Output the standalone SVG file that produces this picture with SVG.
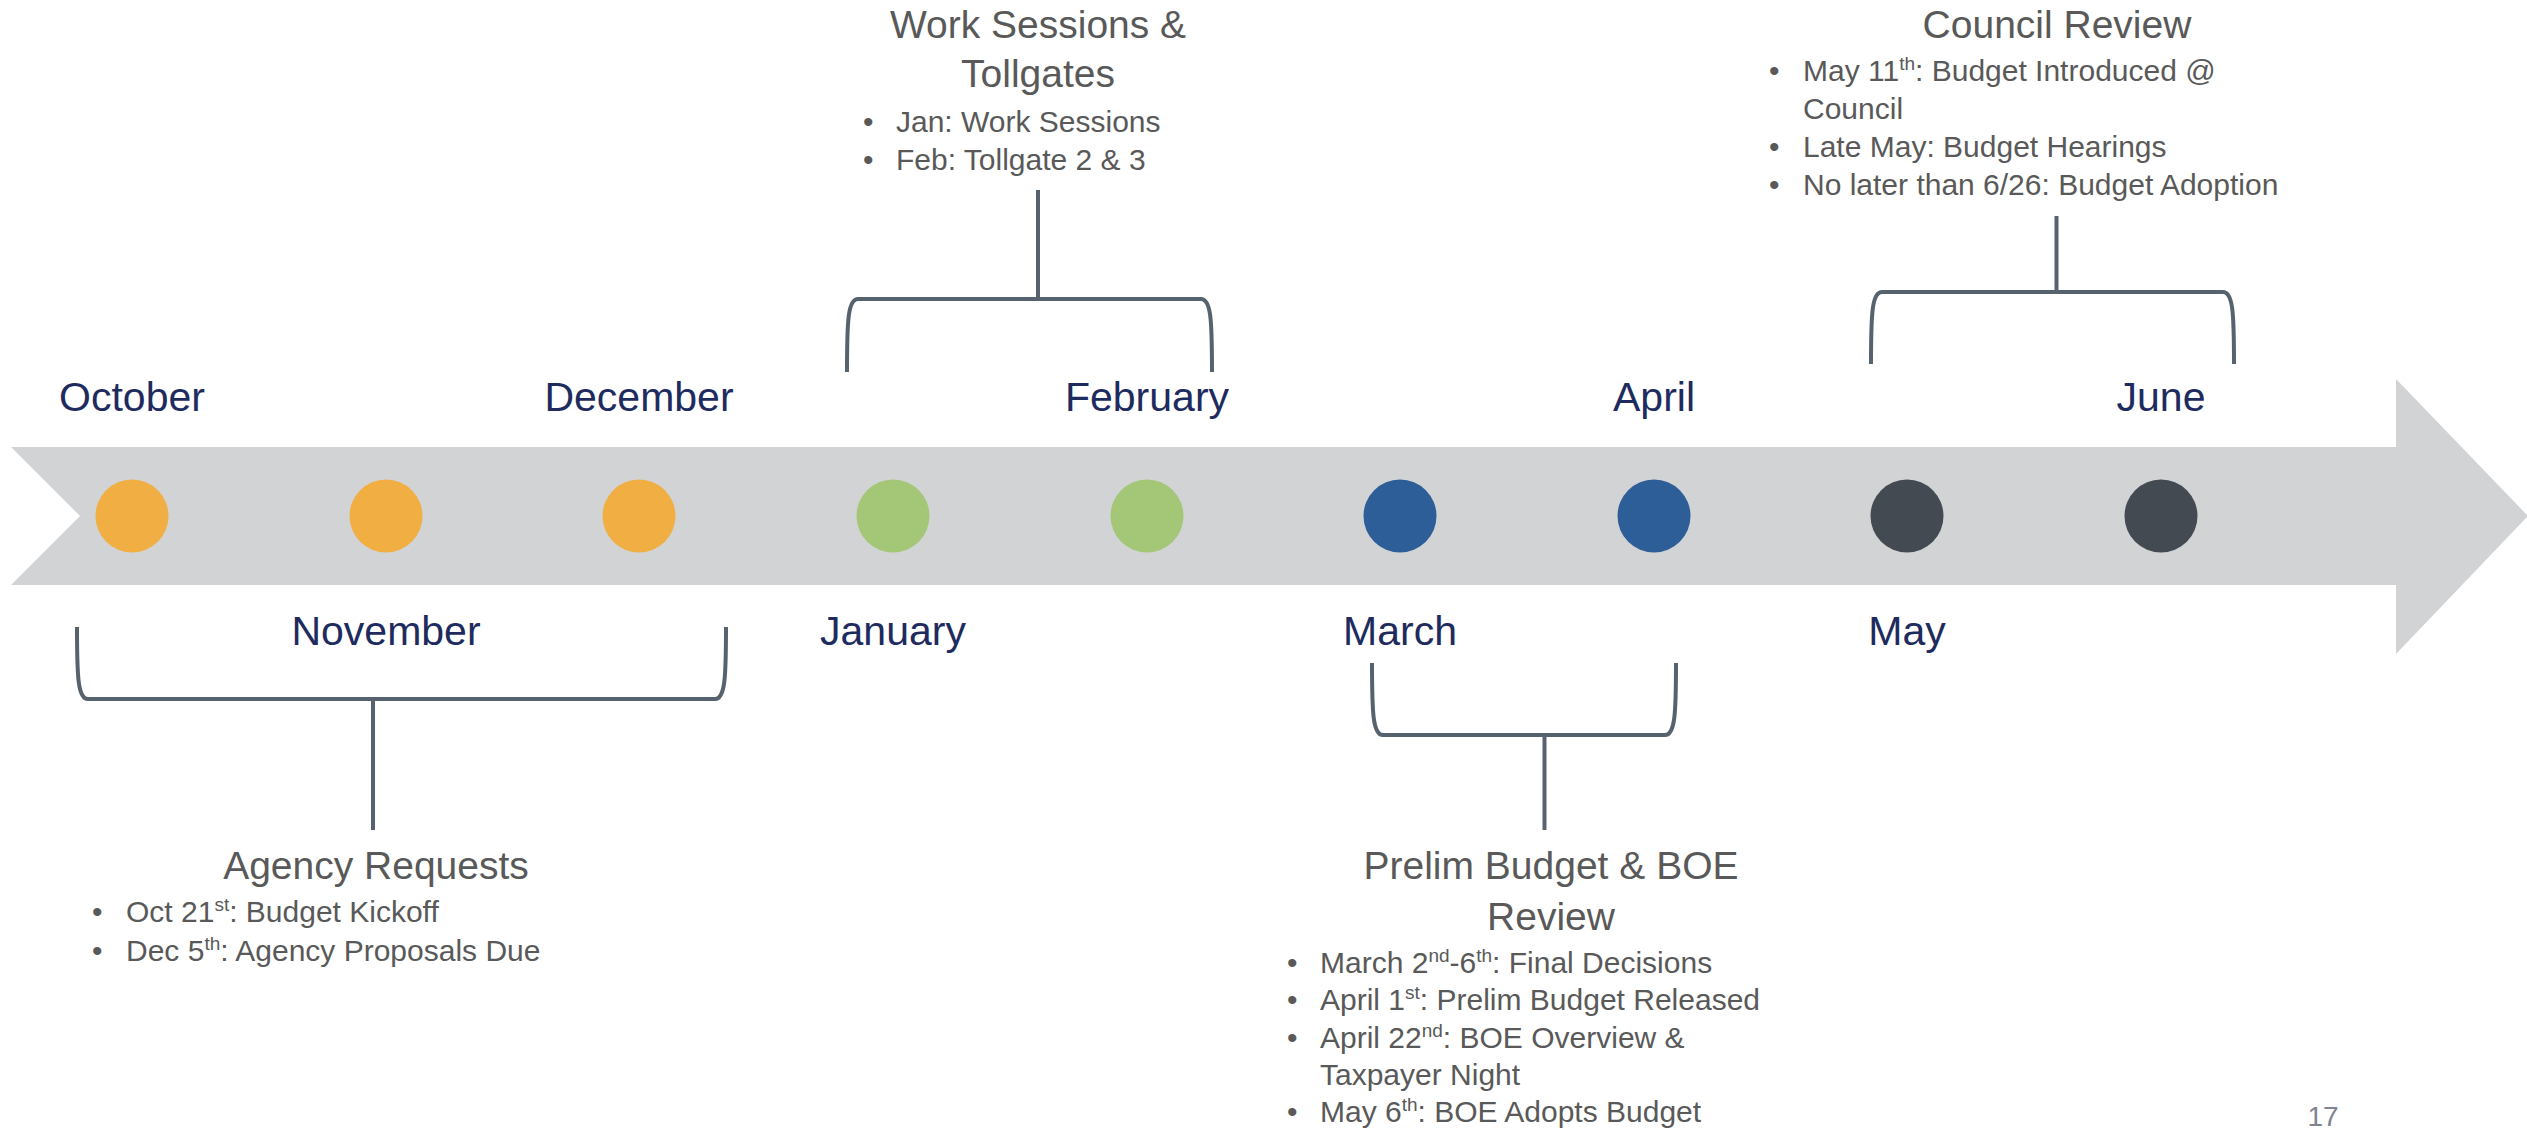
<svg xmlns="http://www.w3.org/2000/svg" width="2527" height="1131" viewBox="0 0 2527 1131">
<style>
text{font-family:"Liberation Sans",Arial,sans-serif}
.month{font-size:41px;fill:#1E2B5E;text-anchor:middle}
.title{font-size:39px;fill:#595959;text-anchor:middle}
.bul{font-size:30px;fill:#595959}
.br{fill:none;stroke:#56636E;stroke-width:4;stroke-linecap:butt}
.pn{font-size:28px;fill:#7F8591;text-anchor:middle}
</style>
<rect width="2527" height="1131" fill="#FFFFFF"/>
<g id="timeline-arrow">
<path d="M11 447 L2396 447 L2396 379 L2528 516 L2396 654 L2396 585 L11 585 L80 516 Z" fill="#D1D3D5"/>
</g>
<g id="dots">
<circle id="dot-oct" cx="132" cy="516" r="36.5" fill="#F1AF43"/>
<circle id="dot-nov" cx="386" cy="516" r="36.5" fill="#F1AF43"/>
<circle id="dot-dec" cx="639" cy="516" r="36.5" fill="#F1AF43"/>
<circle id="dot-jan" cx="893" cy="516" r="36.5" fill="#A3C777"/>
<circle id="dot-feb" cx="1147" cy="516" r="36.5" fill="#A3C777"/>
<circle id="dot-mar" cx="1400" cy="516" r="36.5" fill="#2E5E97"/>
<circle id="dot-apr" cx="1654" cy="516" r="36.5" fill="#2E5E97"/>
<circle id="dot-may" cx="1907" cy="516" r="36.5" fill="#434A52"/>
<circle id="dot-jun" cx="2161" cy="516" r="36.5" fill="#434A52"/>
</g>
<g id="months">
<text class="month" x="132" y="411">October</text>
<text class="month" x="639" y="411">December</text>
<text class="month" x="1147" y="411">February</text>
<text class="month" x="1654" y="411">April</text>
<text class="month" x="2161" y="411">June</text>
<text class="month" x="386" y="645">November</text>
<text class="month" x="893" y="645">January</text>
<text class="month" x="1400" y="645">March</text>
<text class="month" x="1907" y="645">May</text>
</g>
<g id="connectors">
<path class="br" d="M847 372 C847 320 848 299 858 299 L1201 299 C1211 299 1212 320 1212 372"/>
<path class="br" d="M1038 190 L1038 299"/>
<path class="br" d="M1871 364 C1871 313 1872 292 1882 292 L2223 292 C2233 292 2234 313 2234 364"/>
<path class="br" d="M2056.5 216 L2056.5 292"/>
<path class="br" d="M77 627 C77 678 78 699 88 699 L715 699 C725 699 726 678 726 627"/>
<path class="br" d="M373 699 L373 830"/>
<path class="br" d="M1372 663 C1372 714 1373 735 1383 735 L1665 735 C1675 735 1676 714 1676 663"/>
<path class="br" d="M1544.5 735 L1544.5 830"/>
</g>
<g id="work-sessions">
<text class="title" x="1038" y="38">Work Sessions &amp;</text>
<text class="title" x="1038" y="87">Tollgates</text>
<text class="bul" x="863" y="132">•</text>
<text class="bul" x="896" y="132">Jan: Work Sessions</text>
<text class="bul" x="863" y="170">•</text>
<text class="bul" x="896" y="170">Feb: Tollgate 2 &amp; 3</text>
</g>
<g id="council-review">
<text class="title" x="2057" y="38">Council Review</text>
<text class="bul" x="1769" y="81">•</text>
<text class="bul" x="1803" y="81">May 11<tspan font-size="19" dy="-11">th</tspan><tspan dy="11">: Budget Introduced @</tspan></text>
<text class="bul" x="1803" y="119">Council</text>
<text class="bul" x="1769" y="157">•</text>
<text class="bul" x="1803" y="157">Late May: Budget Hearings</text>
<text class="bul" x="1769" y="195">•</text>
<text class="bul" x="1803" y="195">No later than 6/26: Budget Adoption</text>
</g>
<g id="agency-requests">
<text class="title" x="376" y="879">Agency Requests</text>
<text class="bul" x="92" y="922">•</text>
<text class="bul" x="126" y="922">Oct 21<tspan font-size="19" dy="-11">st</tspan><tspan dy="11">: Budget Kickoff</tspan></text>
<text class="bul" x="92" y="961">•</text>
<text class="bul" x="126" y="961">Dec 5<tspan font-size="19" dy="-11">th</tspan><tspan dy="11">: Agency Proposals Due</tspan></text>
</g>
<g id="prelim-budget">
<text class="title" x="1551" y="879">Prelim Budget &amp; BOE</text>
<text class="title" x="1551" y="930">Review</text>
<text class="bul" x="1287" y="973">•</text>
<text class="bul" x="1320" y="973">March 2<tspan font-size="19" dy="-11">nd</tspan><tspan dy="11">-6</tspan><tspan font-size="19" dy="-11">th</tspan><tspan dy="11">: Final Decisions</tspan></text>
<text class="bul" x="1287" y="1010">•</text>
<text class="bul" x="1320" y="1010">April 1<tspan font-size="19" dy="-11">st</tspan><tspan dy="11">: Prelim Budget Released</tspan></text>
<text class="bul" x="1287" y="1048">•</text>
<text class="bul" x="1320" y="1048">April 22<tspan font-size="19" dy="-11">nd</tspan><tspan dy="11">: BOE Overview &amp;</tspan></text>
<text class="bul" x="1320" y="1085">Taxpayer Night</text>
<text class="bul" x="1287" y="1122">•</text>
<text class="bul" x="1320" y="1122">May 6<tspan font-size="19" dy="-11">th</tspan><tspan dy="11">: BOE Adopts Budget</tspan></text>
</g>
<g id="page-number">
<text class="pn" x="2323" y="1126">17</text>
</g>
</svg>
